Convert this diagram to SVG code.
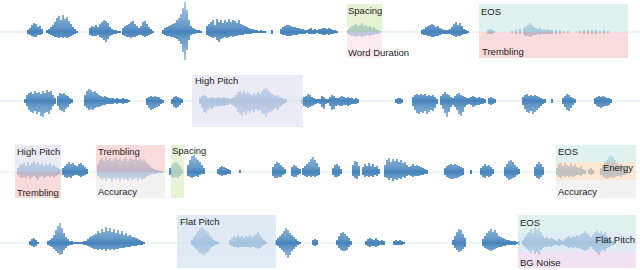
<svg xmlns="http://www.w3.org/2000/svg" width="640" height="270" viewBox="0 0 640 270">
<style>
text{font-family:"Liberation Sans",Arial,sans-serif;font-size:9.5px;fill:#222}
.base{stroke:#d3e3f1;stroke-width:0.8}
.wave{fill:none;stroke-width:1.7}
.box{opacity:0.68}
</style>
<defs>
<linearGradient id="g1" gradientUnits="userSpaceOnUse" x1="0" y1="2" x2="0" y2="62">
<stop offset="0" stop-color="#2e78b6" stop-opacity="0.45"/><stop offset="0.4" stop-color="#2b73b4" stop-opacity="0.85"/><stop offset="0.5" stop-color="#276eae" stop-opacity="1"/><stop offset="0.6" stop-color="#2b73b4" stop-opacity="0.85"/><stop offset="1" stop-color="#2e78b6" stop-opacity="0.45"/>
</linearGradient>
<linearGradient id="g2" gradientUnits="userSpaceOnUse" x1="0" y1="77" x2="0" y2="125" href="#g1"/>
<linearGradient id="g3" gradientUnits="userSpaceOnUse" x1="0" y1="148" x2="0" y2="196" href="#g1"/>
<linearGradient id="g4" gradientUnits="userSpaceOnUse" x1="0" y1="219" x2="0" y2="267" href="#g1"/>
</defs>
<g id="baselines">
<line class="base" x1="0" y1="32" x2="640" y2="32"/>
<line class="base" x1="0" y1="101" x2="640" y2="101"/>
<line class="base" x1="0" y1="172" x2="640" y2="172"/>
<line class="base" x1="0" y1="243" x2="640" y2="243"/>
</g>
<g id="waves">
<path class="wave" stroke="url(#g1)" d="M28 30V34M30 28V35M32 25V36M34 23V37M36 24V37M38 27V35M40 26V35M42 29V34
M47 30V33M49 29V34M51 27V35M53 25V36M55 22V37M57 18V37M59 16V38M61 20V37M63 15V38M65 19V37M67 17V38M69 21V37M71 24V36M73 27V35M75 29V34M77 31V33
M90 28V35M92 26V36M94 27V36M96 25V36M98 27V35M100 24V37M102 22V38M104 20V40M106 21V42M108 23V39M110 27V36M112 29V35M114 30V34M116 30V34M118 31V33M120 31V33
M123 28V35M125 26V36M127 25V37M129 24V37M131 22V38M133 21V37M135 24V37M137 26V36M139 28V35M141 26V35M143 22V36M145 21V37M147 24V36M149 27V35M151 29V34M153 31V33
M163 30V34M165 28V35M167 27V36M169 26V36M171 25V37M173 24V37M175 23V38M177 20V39M179 18V41M181 14V44M183 8V52M185 2V60M187 10V50M189 20V40M191 26V35M193 28V34M195 29V34M197 30V33M199 30V33M201 31V33
M207 26V35M209 24V36M211 22V37M213 20V38M215 25V37M217 19V40M219 22V42M221 20V39M223 23V38M225 20V37M227 22V38M229 19V37M231 22V36M233 20V37M235 21V36M237 23V36M239 20V35M241 24V35M243 25V35M245 26V34M247 27V34M249 28V34M251 29V34M253 29V33M255 30V33M257 30V33M259 31V33M261 30V33M263 31V33M265 31V33M272 30V34
M281 29V34M283 27V35M285 26V35M287 25V36M289 25V36M291 26V36M293 27V35M295 27V35M297 28V35M299 28V34M301 29V34M303 29V34M305 30V34M307 30V33M309 29V34M311 28V34M313 30V34M315 29V34M317 30V33M319 29V34M321 29V34M323 28V35M325 28V35M327 29V34M329 28V35M331 29V34M333 30V34M335 30V33M337 31V33
M348 30V34M350 28V35M352 26V36M354 25V36M356 24V37M358 26V36M360 25V36M362 23V37M364 26V36M366 25V36M368 27V35M370 26V36M372 28V35M374 27V35M376 29V34M378 30V34M380 31V33
M422 30V34M424 29V35M426 27V35M428 26V36M430 25V36M432 24V37M434 25V37M436 27V36M438 26V36M440 28V35M442 29V34M444 30V34M446 30V34M448 30V34M450 29V34M452 27V35M454 24V36M456 22V37M458 25V36M460 23V36M462 26V35M464 29V34M466 30V34M468 31V33
M488 30V34M490 29V34M492 30V34M494 31V33
M512 31V33M516 30V34M520 29V34M524 28V35M526 26V36M528 25V36M530 23V37M532 25V36M534 27V35M536 28V35M538 29V34M540 28V35M542 30V34M544 29V34M546 30V34M548 29V34M550 30V34M552 30V34M556 30V34M560 30V34M564 31V33M568 31V33
M580 31V33M584 30V34M588 30V34M592 30V34M596 30V34M600 31V33M604 30V34M608 31V33"/>
<path class="wave" stroke="url(#g2)" d="M25 99V103M27 95V106M29 93V110M31 92V112M33 94V113M35 91V111M37 93V114M39 92V112M41 94V116M43 91V117M45 93V113M47 90V112M49 92V114M51 91V110M53 95V106M55 98V104
M58 96V106M60 93V110M62 94V111M64 93V112M66 95V109M68 96V107M70 98V104M72 99V103
M85 95V106M87 91V108M89 89V110M91 90V109M93 92V110M95 91V108M97 93V107M99 95V107M101 96V106M103 97V105M105 96V105M107 97V104M109 98V104M111 98V104M113 98V104M115 99V103M117 98V104M119 99V103M121 99V103M123 98V104M125 99V103M127 99V103M129 100V102
M147 98V105M149 97V108M151 96V110M153 97V109M155 96V108M157 97V107M159 97V106M161 99V104M163 100V103
M172 99V104M174 97V107M176 96V108M178 97V107M180 98V105M182 99V103
M200 98V104M202 96V108M204 95V112M206 96V113M208 98V110M210 98V108M212 97V109M214 98V107M216 98V106M218 97V107M220 98V106M222 98V106M224 97V106M226 98V105M228 98V105M230 99V104M232 98V105M234 97V106M236 95V108
M238 92V112M240 91V114M242 93V116M244 91V112M246 94V115M248 92V111M250 94V113M252 95V110M254 93V112M256 95V109M258 92V111M260 94V110M262 91V113M264 89V114M266 88V117M268 90V113M270 92V112M272 94V111M274 95V109M276 96V108M278 95V110M280 97V107M282 98V105M284 99V104M286 99V103
M302 99V104M304 97V106M306 96V107M308 94V108M310 95V107M312 97V106M314 98V105M316 99V104M318 99V103
M320 99V104M322 96V107M324 97V109M326 99V104M328 99V103M330 97V106M332 95V110M334 96V109M336 98V106M338 98V105M340 97V106M342 96V106M344 97V105M346 98V105M348 97V106M350 98V105M352 98V104M354 99V104M356 98V104M358 99V103
M396 99V103M398 98V104M400 98V104M402 99V103
M413 97V106M415 95V110M417 94V113M419 95V114M421 94V112M423 95V113M425 94V111M427 96V114M429 95V112M431 96V110M433 95V111M435 97V108M437 99V104
M441 96V105M443 94V109M445 92V113M447 94V117M449 95V112M451 97V107M453 98V105M455 96V107M457 94V110M459 93V114M461 95V116M463 96V112M465 97V107M467 98V105M469 98V104
M471 97V105M473 96V107M475 97V106M477 98V105M479 97V105M481 98V104M483 98V104M485 99V103M489 98V104M491 97V105M493 98V104M495 99V103
M523 97V105M525 95V109M527 94V112M529 96V113M531 95V111M533 96V114M535 95V112M537 96V110M539 97V108M541 98V106M543 99V104M545 99V103M552 99V103
M563 98V104M565 96V107M567 94V110M569 95V111M571 97V108M573 98V105M575 99V103
M595 98V104M597 97V106M599 96V107M601 97V108M603 96V107M605 97V106M607 98V106M609 98V105M611 99V103"/>
<path class="wave" stroke="url(#g3)" d="M18 168V175M20 165V177M22 164V178M24 163V177M26 166V178M28 162V176M30 165V179M32 163V177M34 161V176M36 164V178M38 162V180M40 165V177M42 163V176M44 166V178M46 164V177M48 165V176M50 163V177M52 166V176M54 165V178M56 167V176M58 168V175M60 169V174
M63 168V175M65 166V177M67 164V178M69 162V177M71 164V178M73 163V176M75 165V175M77 166V175M79 164V176M81 163V177M83 165V176M85 167V175M87 169V174
M98 164V176M100 160V178M102 158V180M104 161V178M106 157V181M108 160V178M110 158V179M112 161V182M114 159V178M116 157V180M118 160V178M120 158V181M122 161V178M124 159V180M126 157V179M128 161V181M130 159V178M132 158V180M134 160V179M136 157V178M138 160V181M140 158V178M142 161V180M144 159V179M146 162V177M148 164V176M150 166V175M152 168V174M154 169V174M156 170V174M158 170V173M160 171V173M162 171V173
M170 168V175M172 165V177M174 163V178M176 162V177M178 164V178M180 166V176M182 169V174
M188 165V176M190 160V177M192 156V178M194 155V177M196 158V176M198 160V177M200 162V175M202 165V174M204 168V174
M218 169V174M220 167V175M222 166V176M224 167V175M226 168V175M228 169V174M230 170V174M240 170V173
M273 167V176M275 164V178M277 162V178M279 163V177M281 165V177M283 167V175M285 169V174
M292 167V176M294 165V177M296 166V177M298 168V175M300 169V174
M303 168V175M305 166V176M307 164V177M309 162V176M311 159V177M313 157V176M315 160V177M317 163V176M319 167V175
M333 168V175M335 165V177M337 164V177M339 166V176M341 169V174
M353 165V176M355 161V178M357 162V179M359 166V176
M363 167V175M365 164V177M367 166V176M369 163V177M371 166V176M373 164V177M375 167V175M377 166V176M379 169V174
M385 165V177M387 160V178M389 158V180M391 162V178M393 159V181M395 161V179M397 159V180M399 162V178M401 160V179M403 163V177M405 162V178M407 165V176M409 167V175
M411 166V176M413 164V177M415 166V176M417 165V176M419 166V176M421 167V175M423 168V175M425 169V174M427 170V174
M445 168V175M447 166V177M449 165V178M451 164V179M453 165V179M455 164V178M457 165V178M459 166V177M461 167V176M463 168V175M471 170V174
M481 168V175M483 166V177M485 164V178M487 166V176M489 165V177M491 167V176M493 169V174
M505 167V176M507 164V178M509 161V180M511 160V179M513 162V178M515 165V177M517 167V175M519 169V174
M535 167V176M537 164V178M539 162V179M541 164V177M543 167V175
M557 168V175M559 164V177M561 163V178M563 166V176M565 163V177M567 165V176M569 166V177M571 163V176M573 166V177M575 164V176M577 167V175M579 168V175M581 166V176M583 169V174M585 170V174M589 169V174M591 168V175M593 170V174
M601 168V175M603 165V177M605 162V178M607 160V179M609 157V178M611 155V177M613 157V178M615 160V177M617 163V176M619 165V176M621 164V177M623 166V175M625 168V175M627 170V174"/>
<path class="wave" stroke="url(#g4)" d="M30 241V245M32 239V246M34 238V247M36 240V246M38 242V244
M48 241V245M50 240V246M52 238V247M54 235V249M56 230V251M58 226V253M60 223V255M62 228V254M64 233V250M66 237V248M68 239V246M70 241V245M72 241V245M74 242V244M76 242V244M78 242V244M80 242V244M82 242V244M84 241V245M86 241V245
M88 239V246M90 237V247M92 236V248M94 235V249M96 234V249M98 231V250M100 233V249M102 229V250M104 232V249M106 227V251M108 231V249M110 228V250M112 232V249M114 229V250M116 233V249M118 230V249M120 234V248M122 231V248M124 235V248M126 233V247M128 236V247M130 235V247M132 237V246M134 237V246M136 238V246M138 239V245M140 240V245M142 241V245M144 242V244
M192 240V245M194 237V247M196 234V249M198 231V251M200 228V253M202 227V254M204 229V255M206 231V253M208 233V252M210 236V249M212 238V247M214 240V246M216 241V245M218 242V244
M230 240V245M232 238V246M234 236V247M236 237V247M238 235V248M240 237V247M242 236V247M244 238V247M246 236V247M248 237V247M250 235V248M252 237V247M254 236V247M256 234V248M258 232V249M260 235V248M262 238V246M264 240V245M266 242V244
M276 240V245M278 238V246M280 236V248M282 234V250M284 231V252M286 228V255M288 230V258M290 233V255M292 235V251M294 237V249M296 239V247M298 241V245M300 242V244
M313 240V245M315 239V246M317 240V245
M337 240V245M339 236V248M341 233V250M343 232V251M345 234V251M347 236V250M349 238V247M351 241V245
M366 241V245M368 239V246M370 238V247M372 239V246M374 240V246M376 238V247M378 240V246M380 241V245M382 240V245M384 241V245
M394 241V245M396 240V245M398 241V245M400 240V245M402 241V245M404 242V244
M453 240V245M455 236V248M457 232V250M459 229V252M461 230V251M463 234V249M465 238V247
M483 239V246M485 236V248M487 233V249M489 231V250M491 229V251M493 232V250M495 230V249M497 233V248M499 236V247M501 237V247M503 238V246M505 239V246M507 240V245M509 240V245M511 241V245M513 241V245M515 241V245M517 242V244M519 241V245
M523 240V245M525 237V247M527 234V249M529 232V251M531 229V253M533 233V250M535 227V254M537 230V252M539 228V255M541 232V250M543 236V248M545 238V247M547 237V247M549 239V246M551 238V247M553 239V246M555 240V245M557 241V245M559 239V246M561 240V245
M563 241V245M565 239V246M567 237V247M569 236V248M571 238V247M573 236V248M575 237V247M577 235V248M579 236V248M581 234V249M583 233V250M585 231V251M587 233V250M589 235V249M591 237V247
M593 235V249M595 232V251M597 230V253M599 233V255M601 231V252M603 234V250M605 232V251M607 236V248M609 238V247M611 240V246M613 241V245M615 242V244"/>
</g>
<g id="boxes" class="box">
<rect x="347" y="4" width="35" height="28" fill="#d9edbf"/>
<rect x="347" y="32" width="35" height="26" fill="#fbe3ea"/>
<rect x="479" y="4" width="149" height="28" fill="#d2ede8"/>
<rect x="479" y="32" width="149" height="26" fill="#f9cbcb"/>
<rect x="192" y="75" width="111" height="52" fill="#e2e2f1"/>
<rect x="15" y="145" width="46" height="27" fill="#e2e2f1"/>
<rect x="15" y="172" width="46" height="26" fill="#f9cbcb"/>
<rect x="96" y="145" width="69" height="27" fill="#f9cbcb"/>
<rect x="96" y="172" width="69" height="26" fill="#ececec"/>
<rect x="171" y="145" width="13" height="53" fill="#d9edbf"/>
<rect x="556" y="145" width="80" height="17" fill="#d2ede8"/>
<rect x="556" y="162" width="80" height="18" fill="#fbdcbf"/>
<rect x="556" y="180" width="80" height="18" fill="#ececec"/>
<rect x="177" y="215" width="99" height="53" fill="#d2e1f0"/>
<rect x="518" y="215" width="118" height="18" fill="#d2ede8"/>
<rect x="518" y="233" width="118" height="19" fill="#d2e1f0"/>
<rect x="518" y="252" width="118" height="16" fill="#ecd3ec"/>
</g>
<g id="labels">
<text x="348" y="14">Spacing</text>
<text x="348" y="56">Word Duration</text>
<text x="481" y="15">EOS</text>
<text x="482" y="55">Trembling</text>
<text x="195" y="84">High Pitch</text>
<text x="17" y="154.5">High Pitch</text>
<text x="17" y="195.5">Trembling</text>
<text x="98" y="154.5">Trembling</text>
<text x="98" y="195">Accuracy</text>
<text x="172" y="154">Spacing</text>
<text x="558" y="154.5">EOS</text>
<text x="633" y="170.5" text-anchor="end">Energy</text>
<text x="558" y="195">Accuracy</text>
<text x="180" y="225">Flat Pitch</text>
<text x="520" y="226">EOS</text>
<text x="635" y="242.5" text-anchor="end">Flat Pitch</text>
<text x="520" y="266">BG Noise</text>
</g>
</svg>
